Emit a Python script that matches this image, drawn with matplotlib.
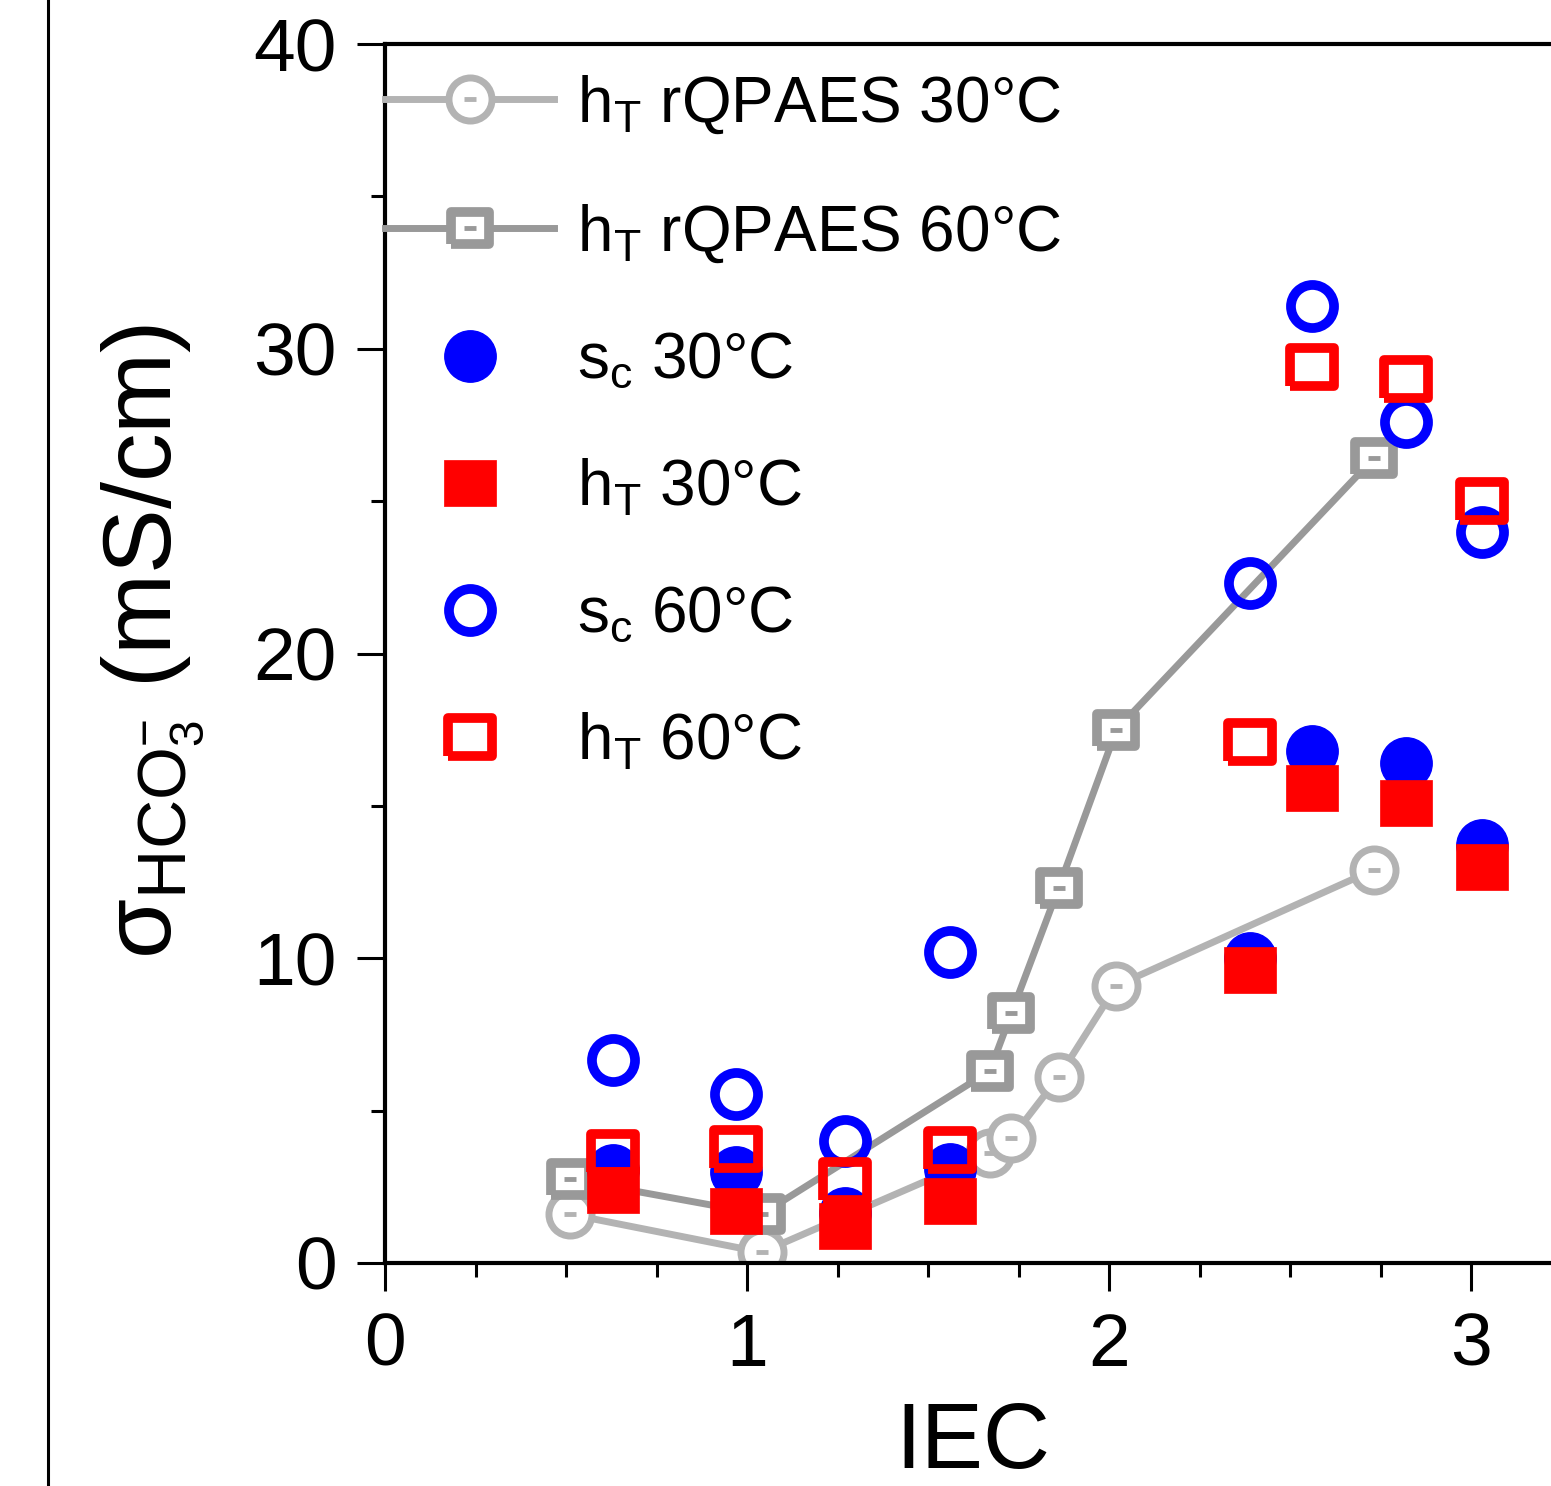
import matplotlib
matplotlib.use("Agg")
import matplotlib.pyplot as plt
from matplotlib.lines import Line2D
from matplotlib.ticker import MultipleLocator

plt.rcParams['font.family'] = ['Liberation Sans', 'DejaVu Sans']
plt.rcParams['mathtext.fontset'] = 'custom'
plt.rcParams['mathtext.rm'] = 'Liberation Sans'
plt.rcParams['mathtext.it'] = 'Liberation Sans:italic'
plt.rcParams['mathtext.bf'] = 'Liberation Sans:bold'

# rQPAES reference series (lines + open gray markers)
iec_ref = [0.51, 1.04, 1.67, 1.73, 1.86, 2.02, 2.73]
ref_30 = [1.6, 0.35, 3.6, 4.1, 6.1, 9.1, 12.9]
ref_60 = [2.75, 1.6, 6.3, 8.2, 12.3, 17.5, 26.4]

# sc / hT series (markers only)
iec = [0.63, 0.97, 1.27, 1.56, 2.39, 2.56, 2.82, 3.03]
sc_30 = [3.05, 3.0, 1.65, 3.1, 10.0, 16.8, 16.4, 13.7]
ht_30 = [2.4, 1.7, 1.2, 2.05, 9.6, 15.6, 15.1, 13.0]
sc_60 = [6.65, 5.55, 4.0, 10.2, 22.3, 31.4, 27.6, 24.0]
ht_60 = [3.6, 3.75, 2.7, 3.7, 17.1, 29.4, 29.0, 25.0]

labels = [r'h$_\mathregular{T}$ rQPAES 30°C', r'h$_\mathregular{T}$ rQPAES 60°C',
          r's$_\mathregular{c}$ 30°C', r'h$_\mathregular{T}$ 30°C',
          r's$_\mathregular{c}$ 60°C', r'h$_\mathregular{T}$ 60°C']

LGRAY = '#b3b3b3'
DGRAY = '#999999'
rect = [(-1, -0.87), (1, -0.87), (1, 0.87), (-1, 0.87), (-1, -0.87)]

W, H = 1551, 1486
fig = plt.figure(figsize=(W / 100, H / 100), dpi=100)
ax = fig.add_axes([385 / W, (H - 1263) / H, 1195 / W, 1219 / H])

l30, = ax.plot(iec_ref, ref_30, color=LGRAY, lw=5, marker='o', ms=31,
               mfc='white', mec=LGRAY, mew=5, zorder=2)
d30, = ax.plot(iec_ref, ref_30, ls='none', marker='_', ms=9, mew=3.5,
               color=LGRAY, zorder=2.1)
l60, = ax.plot(iec_ref, ref_60, color=DGRAY, lw=5, marker=rect, ms=27,
               mfc='white', mec=DGRAY, mew=7, zorder=2.2)
d60, = ax.plot(iec_ref, ref_60, ls='none', marker='_', ms=9, mew=3.5,
               color=DGRAY, zorder=2.3)

b30, = ax.plot(iec, sc_30, ls='none', marker='o', ms=37, color='blue',
               mew=1, zorder=3)
r30, = ax.plot(iec, ht_30, ls='none', marker=rect, ms=38, color='red',
               mew=0.5, zorder=4)
b60, = ax.plot(iec, sc_60, ls='none', marker='o', ms=31, mfc='none',
               mec='blue', mew=7, zorder=5)
r60, = ax.plot(iec, ht_60, ls='none', marker=rect, ms=31, mfc='none',
               mec='red', mew=7, zorder=6)

ax.legend([(l30, d30), (l60, d60), b30, r30, b60, r60], labels,
          loc='upper left', bbox_to_anchor=(0, 0.976), frameon=False,
          borderpad=0, borderaxespad=0, handlelength=2.65,
          handletextpad=0.36, labelspacing=1.04, fontsize=46, numpoints=1)

ax.set_xlim(0, 3.3)
ax.set_ylim(0, 40)
ax.xaxis.set_major_locator(MultipleLocator(1))
ax.xaxis.set_minor_locator(MultipleLocator(0.25))
ax.yaxis.set_major_locator(MultipleLocator(10))
ax.yaxis.set_minor_locator(MultipleLocator(5))
ax.tick_params(which='major', direction='out', length=20, width=2.2,
               labelsize=54, pad=15, top=False, right=False)
ax.tick_params(which='minor', direction='out', length=10, width=2.2,
               top=False, right=False)
for s in ['left', 'bottom', 'top']:
    ax.spines[s].set_linewidth(3)
ax.spines['right'].set_visible(False)

ax.set_xlabel('IEC', fontsize=67)
ax.xaxis.set_label_coords(0.492, -0.113)
ax.set_ylabel(r'σ$_{\mathregular{HCO}_{\mathregular{3}}^{\mathregular{-}}}$ (mS/cm)',
              fontsize=70)
ax.yaxis.set_label_coords(-0.15, 0.51)

# stray border line at far left of the source image
fig.add_artist(Line2D([48 / W, 48 / W], [0, 1], color='black', lw=2.2,
                      transform=fig.transFigure))

fig.savefig('out.png', dpi=100)
